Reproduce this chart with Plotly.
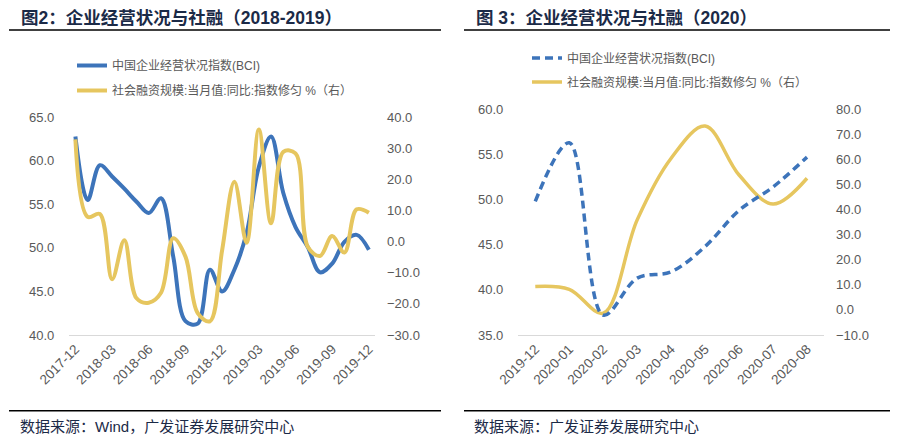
import plotly.graph_objects as go

# ---------------- data ----------------
months_a = ["2017-12", "2018-01", "2018-02", "2018-03", "2018-04", "2018-05", "2018-06",
            "2018-07", "2018-08", "2018-09", "2018-10", "2018-11", "2018-12",
            "2019-01", "2019-02", "2019-03", "2019-04", "2019-05", "2019-06",
            "2019-07", "2019-08", "2019-09", "2019-10", "2019-11", "2019-12"]
ticks_a = ["2017-12", "2018-03", "2018-06", "2018-09", "2018-12",
           "2019-03", "2019-06", "2019-09", "2019-12"]
bci_a = [62.8, 55.5, 59.5, 58.2, 56.8, 55.3, 54.0, 55.7, 49.0, 41.6, 41.3, 47.5, 45.0,
         47.5, 51.7, 59.3, 62.8, 56.3, 52.4, 50.1, 47.2, 48.2, 50.7, 51.5, 49.8]
sf_a = [32.9, 8.0, 8.9, -12.1, 0.5, -18.2, -19.6, -16.4, 1.1, -4.8, -23.0, -25.6, -2.7,
        19.3, -0.3, 36.1, 5.9, 28.9, 28.4, -1.6, -4.6, 1.8, -3.5, 10.4, 9.3]

months_b = ["2019-12", "2020-01", "2020-02", "2020-03", "2020-04",
            "2020-05", "2020-06", "2020-07", "2020-08"]
bci_b = [49.8, 56.3, 37.2, 41.3, 42.0, 44.8, 48.8, 51.4, 54.7]
sf_b = [9.3, 8.2, -1.3, 35.9, 60.5, 73.3, 53.8, 42.2, 52.5]

name_bci = "中国企业经营状况指数(BCI)"
name_sf = "社会融资规模:当月值:同比:指数修匀 %（右）"
title_a = "图2：企业经营状况与社融（2018-2019）"
title_b = "图 3：企业经营状况与社融（2020）"
source_a = "数据来源：Wind，广发证券发展研究中心"
source_b = "数据来源：广发证券发展研究中心"

# ---------------- style ----------------
W, H = 898, 447
OFF = 8  # page body margin in the browser
BLUE = "#3D74BA"
GOLD = "#E6C65F"
TICK = "#595959"
NAVY = "#1B2A47"
FONT = "Liberation Sans, Arial, Noto Sans CJK SC, sans-serif"


def px_x(v):
    return (v - OFF) / W


def px_y(v):
    return 1 - (v - OFF) / H


fig = go.Figure()

fig.add_trace(go.Scatter(x=months_a, y=bci_a, name=name_bci, mode="lines", showlegend=True,
                         line=dict(color=BLUE, width=4, shape="spline", smoothing=1.0),
                         xaxis="x", yaxis="y", legend="legend"))
fig.add_trace(go.Scatter(x=months_a, y=sf_a, name=name_sf, mode="lines", showlegend=True,
                         line=dict(color=GOLD, width=4, shape="spline", smoothing=1.0),
                         xaxis="x", yaxis="y2", legend="legend2"))
fig.add_trace(go.Scatter(x=months_b, y=sf_b, name=name_sf, mode="lines", showlegend=True,
                         line=dict(color=GOLD, width=3.5, shape="spline", smoothing=1.0),
                         xaxis="x2", yaxis="y3", legend="legend4"))
fig.add_trace(go.Scatter(x=months_b, y=bci_b, name=name_bci, mode="lines", showlegend=True,
                         line=dict(color=BLUE, width=3.5, shape="spline", smoothing=1.0,
                                   dash="8px,5px"),
                         xaxis="x2", yaxis="y4", legend="legend3"))

tickfont = dict(family=FONT, size=13, color=TICK)
xfont = dict(family=FONT, size=13.5, color=TICK)
legfont = dict(family=FONT, size=12, color=TICK)

dom_a = [px_x(69.3), px_x(375)]
dom_b = [px_x(518.3), px_x(824)]
ydom_a = [px_y(335), px_y(117.3)]
ydom_b = [px_y(335), px_y(109.3)]


def leg(x, ytop):
    return dict(x=px_x(x), y=px_y(ytop), xanchor="left", yanchor="top",
                font=legfont, bgcolor="rgba(0,0,0,0)", borderwidth=0)


fig.update_layout(
    width=W, height=H,
    margin=dict(l=0, r=0, t=0, b=0, autoexpand=False),
    showlegend=True,
    paper_bgcolor="white", plot_bgcolor="white",
    font=dict(family=FONT),
    xaxis=dict(domain=dom_a, anchor="y", type="category", range=[-0.5, 24.5],
               tickmode="array", tickvals=ticks_a, ticktext=ticks_a, tickangle=-45,
               tickfont=xfont, showgrid=False, showline=True, linecolor="#D9D9D9",
               linewidth=1, ticks="", zeroline=False, automargin=False),
    yaxis=dict(domain=ydom_a, anchor="x", range=[40, 65], dtick=5, tick0=40,
               tickformat=".1f", tickfont=tickfont, showgrid=False, zeroline=False,
               showline=False, ticks="", ticklabelstandoff=14, automargin=False),
    yaxis2=dict(anchor="x", overlaying="y", side="right", range=[-30, 40], dtick=10,
                tick0=-30, tickformat=".1f", tickfont=tickfont, showgrid=False,
                zeroline=False, showline=False, ticks="", ticklabelstandoff=11,
                automargin=False),
    xaxis2=dict(domain=dom_b, anchor="y3", type="category", range=[-0.5, 8.5],
                tickangle=-45, tickfont=xfont, showgrid=False, showline=True,
                linecolor="#D9D9D9", linewidth=1, ticks="", zeroline=False,
                automargin=False),
    yaxis3=dict(domain=ydom_b, anchor="x2", side="right", range=[-10, 80], dtick=10,
                tick0=-10, tickformat=".1f", tickfont=tickfont, showgrid=False,
                zeroline=False, showline=False, ticks="", ticklabelstandoff=11,
                automargin=False),
    yaxis4=dict(anchor="x2", overlaying="y3", side="left", range=[35, 60], dtick=5,
                tick0=35, tickformat=".1f", tickfont=tickfont, showgrid=False,
                zeroline=False, showline=False, ticks="", ticklabelstandoff=14,
                automargin=False),
    legend=leg(72, 51),
    legend2=leg(72, 76),
    legend3=leg(527, 43.5),
    legend4=leg(527, 67.5),
    shapes=[
        dict(type="line", xref="paper", yref="paper", x0=px_x(9), x1=px_x(441),
             y0=px_y(30), y1=px_y(30), line=dict(color="black", width=1.5)),
        dict(type="line", xref="paper", yref="paper", x0=px_x(464), x1=1,
             y0=px_y(30), y1=px_y(30), line=dict(color="black", width=1.5)),
        dict(type="line", xref="paper", yref="paper", x0=px_x(9), x1=px_x(441),
             y0=px_y(410.7), y1=px_y(410.7), line=dict(color="black", width=1.5)),
        dict(type="line", xref="paper", yref="paper", x0=px_x(464), x1=1,
             y0=px_y(410.7), y1=px_y(410.7), line=dict(color="black", width=1.5)),
    ],
    annotations=[
        dict(text="<b>" + title_a + "</b>", xref="paper", yref="paper",
             x=px_x(20), y=px_y(17.5), xanchor="left", yanchor="middle", showarrow=False,
             height=17, borderpad=0, valign="middle",
             font=dict(family=FONT, size=17.5, color=NAVY)),
        dict(text="<b>" + title_b + "</b>", xref="paper", yref="paper",
             x=px_x(475), y=px_y(17.5), xanchor="left", yanchor="middle", showarrow=False,
             height=17, borderpad=0, valign="middle",
             font=dict(family=FONT, size=17.5, color=NAVY)),
        dict(text=source_a, xref="paper", yref="paper",
             x=px_x(18), y=px_y(426), xanchor="left", yanchor="middle", showarrow=False,
             font=dict(family=FONT, size=15, color=NAVY)),
        dict(text=source_b, xref="paper", yref="paper",
             x=px_x(472), y=px_y(426.5), xanchor="left", yanchor="middle", showarrow=False,
             font=dict(family=FONT, size=15, color=NAVY)),
    ],
)

fig.write_html("out.html")
